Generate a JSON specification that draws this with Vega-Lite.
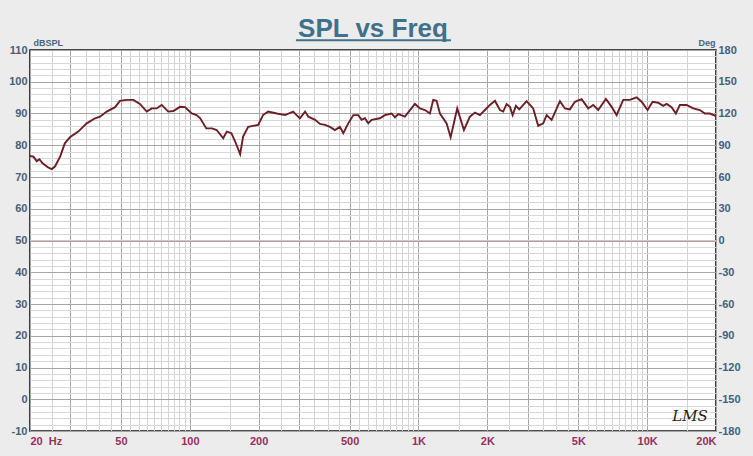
{
  "$schema": "https://vega.github.io/schema/vega-lite/v6.json",
  "autosize": {"type": "none"},
  "padding": {"left": 30, "top": 50, "right": 37, "bottom": 25},
  "width": 686,
  "height": 381,
  "background": "#ececec",
  "config": {
    "view": {"fill": "#ffffff", "stroke": "#111111", "strokeWidth": 1.6},
    "axis": {"domain": false, "ticks": false, "labelOverlap": false, "labelBound": false,
             "labelFont": "Liberation Sans Narrow, Liberation Sans, Arial", "labelFontWeight": "bold", "labelFontSize": 11,
             "titleFont": "Liberation Sans", "titleFontWeight": "bold", "titleFontSize": 9, "titleColor": "#4a6580"}
  },
  "title": {"text": "SPL vs Freq", "font": "Liberation Sans", "fontSize": 26, "fontWeight": "bold", "color": "#41708a",
            "anchor": "middle", "frame": "group", "baseline": "alphabetic", "offset": 14, "dy": 39},
  "datasets": {
    "spl": [
      {"freq": 20, "spl": 76.6}, {"freq": 20.7, "spl": 76.4}, {"freq": 21.4, "spl": 75}, {"freq": 22, "spl": 75.6},
      {"freq": 22.7, "spl": 74.3}, {"freq": 24, "spl": 73}, {"freq": 24.9, "spl": 72.5}, {"freq": 25.7, "spl": 73.3},
      {"freq": 27.1, "spl": 76.4}, {"freq": 28.4, "spl": 80.6}, {"freq": 29.9, "spl": 82.5}, {"freq": 32.5, "spl": 84.3},
      {"freq": 35.4, "spl": 86.9}, {"freq": 38.5, "spl": 88.5}, {"freq": 40.5, "spl": 89}, {"freq": 43.3, "spl": 90.6},
      {"freq": 47.1, "spl": 92}, {"freq": 49.5, "spl": 94}, {"freq": 52.9, "spl": 94.3}, {"freq": 56.6, "spl": 94.3},
      {"freq": 60.5, "spl": 93}, {"freq": 64.8, "spl": 90.6}, {"freq": 68.1, "spl": 91.6}, {"freq": 71.6, "spl": 91.6},
      {"freq": 75.3, "spl": 92.7}, {"freq": 80.5, "spl": 90.6}, {"freq": 84.7, "spl": 90.8}, {"freq": 90.6, "spl": 92.1},
      {"freq": 95.2, "spl": 92}, {"freq": 102, "spl": 90}, {"freq": 107, "spl": 89.5}, {"freq": 111, "spl": 88.5},
      {"freq": 118, "spl": 85.3}, {"freq": 125, "spl": 85.3}, {"freq": 131, "spl": 84.8}, {"freq": 140, "spl": 82.2},
      {"freq": 145, "spl": 84.3}, {"freq": 152, "spl": 83.8}, {"freq": 158, "spl": 81.1}, {"freq": 166, "spl": 77.2},
      {"freq": 171, "spl": 82.7}, {"freq": 180, "spl": 85.8}, {"freq": 189, "spl": 86.1}, {"freq": 199, "spl": 86.4},
      {"freq": 209, "spl": 89.5}, {"freq": 220, "spl": 90.6}, {"freq": 240, "spl": 90}, {"freq": 261, "spl": 89.5},
      {"freq": 283, "spl": 90.6}, {"freq": 293, "spl": 89.5}, {"freq": 303, "spl": 88.5}, {"freq": 319, "spl": 90.6},
      {"freq": 330, "spl": 89}, {"freq": 353, "spl": 88}, {"freq": 371, "spl": 86.7}, {"freq": 390, "spl": 86.4},
      {"freq": 410, "spl": 85.8}, {"freq": 431, "spl": 84.8}, {"freq": 453, "spl": 85.8}, {"freq": 469, "spl": 83.8},
      {"freq": 493, "spl": 86.9}, {"freq": 519, "spl": 89.5}, {"freq": 545, "spl": 89.5}, {"freq": 564, "spl": 88},
      {"freq": 583, "spl": 88.5}, {"freq": 603, "spl": 86.9}, {"freq": 624, "spl": 88}, {"freq": 678, "spl": 88.5},
      {"freq": 713, "spl": 89.5}, {"freq": 763, "spl": 90}, {"freq": 789, "spl": 88.8}, {"freq": 816, "spl": 89.8},
      {"freq": 872, "spl": 89}, {"freq": 965, "spl": 93}, {"freq": 1015, "spl": 91.6}, {"freq": 1067, "spl": 91.1},
      {"freq": 1122, "spl": 90}, {"freq": 1160, "spl": 94.3}, {"freq": 1200, "spl": 94}, {"freq": 1241, "spl": 90},
      {"freq": 1327, "spl": 86.9}, {"freq": 1382, "spl": 82.5}, {"freq": 1477, "spl": 91.6}, {"freq": 1580, "spl": 84.8},
      {"freq": 1678, "spl": 89}, {"freq": 1765, "spl": 90.3}, {"freq": 1856, "spl": 89.5}, {"freq": 1952, "spl": 91.1},
      {"freq": 2053, "spl": 92.7}, {"freq": 2159, "spl": 94}, {"freq": 2270, "spl": 91.1}, {"freq": 2347, "spl": 90.6},
      {"freq": 2429, "spl": 93}, {"freq": 2511, "spl": 92.1}, {"freq": 2580, "spl": 89.5}, {"freq": 2667, "spl": 92.4},
      {"freq": 2758, "spl": 91.3}, {"freq": 2970, "spl": 93.9}, {"freq": 3174, "spl": 91.6}, {"freq": 3339, "spl": 86.1},
      {"freq": 3511, "spl": 86.9}, {"freq": 3634, "spl": 89.5}, {"freq": 3821, "spl": 88}, {"freq": 4155, "spl": 93.9},
      {"freq": 4369, "spl": 91.6}, {"freq": 4594, "spl": 91.3}, {"freq": 4830, "spl": 93.7}, {"freq": 5169, "spl": 94.5},
      {"freq": 5523, "spl": 91.6}, {"freq": 5809, "spl": 92.7}, {"freq": 6108, "spl": 91.1}, {"freq": 6602, "spl": 94.6},
      {"freq": 6991, "spl": 92.1}, {"freq": 7352, "spl": 89.5}, {"freq": 7858, "spl": 94.3}, {"freq": 8406, "spl": 94.3},
      {"freq": 8991, "spl": 95.1}, {"freq": 9455, "spl": 93.7}, {"freq": 10042, "spl": 91.1}, {"freq": 10562, "spl": 93.7},
      {"freq": 11174, "spl": 93.4}, {"freq": 11751, "spl": 92.4}, {"freq": 12162, "spl": 93}, {"freq": 12788, "spl": 92},
      {"freq": 13353, "spl": 90}, {"freq": 13902, "spl": 92.7}, {"freq": 14872, "spl": 92.7}, {"freq": 15900, "spl": 91.6},
      {"freq": 17007, "spl": 91.1}, {"freq": 17886, "spl": 90}, {"freq": 18809, "spl": 90}, {"freq": 20000, "spl": 89.2}
    ],
    "phase": [{"deg": 0}]
  },
  "layer": [
    {
      "data": {"name": "spl"},
      "mark": {"type": "line", "color": "#6b1f24", "strokeWidth": 1.9},
      "encoding": {
        "x": {
          "field": "freq", "type": "quantitative",
          "scale": {"type": "log", "domain": [20, 20000], "nice": false},
          "axis": {
            "title": null, "grid": true, "gridWidth": 1,
            "values": [20, 25, 30, 35, 40, 45, 50, 55, 60, 65, 70, 75, 80, 85, 90, 95, 100, 150, 200, 250, 300, 350, 400, 450, 500, 550, 600, 650, 700, 750, 800, 850, 900, 950, 1000, 1500, 2000, 2500, 3000, 3500, 4000, 4500, 5000, 5500, 6000, 6500, 7000, 7500, 8000, 8500, 9000, 9500, 10000, 15000, 20000],
            "gridColor": {"condition": {"test": "indexof([20, 30, 50, 100, 200, 300, 500, 1000, 2000, 3000, 5000, 10000, 20000], datum.value) >= 0", "value": "#a6a6a6"}, "value": "#d4d4d4"},
            "labelExpr": "datum.value == 20 ? '20\u00a0\u00a0Hz' : indexof([50, 100, 200, 500], datum.value) >= 0 ? '' + datum.value : indexof([1000, 2000, 5000, 10000, 20000], datum.value) >= 0 ? (datum.value / 1000) + 'K' : ''",
            "labelColor": "#97305a", "labelPadding": 4, "labelFlush": true
          }
        },
        "y": {
          "field": "spl", "type": "quantitative",
          "scale": {"domain": [-10, 110], "nice": false, "zero": false},
          "axis": {
            "title": "dBSPL", "titleAngle": 0, "titleAlign": "left", "titleBaseline": "bottom", "titleX": 3, "titleY": -3,
            "grid": true, "gridWidth": 1,
            "values": [-10, -8, -6, -4, -2, 0, 2, 4, 6, 8, 10, 12, 14, 16, 18, 20, 22, 24, 26, 28, 30, 32, 34, 36, 38, 40, 42, 44, 46, 48, 50, 52, 54, 56, 58, 60, 62, 64, 66, 68, 70, 72, 74, 76, 78, 80, 82, 84, 86, 88, 90, 92, 94, 96, 98, 100, 102, 104, 106, 108, 110],
            "gridColor": {"condition": {"test": "datum.value % 10 == 0", "value": "#a6a6a6"}, "value": "#d8d8d8"},
            "labelExpr": "datum.value % 10 == 0 ? '' + datum.value : ''",
            "labelColor": "#3f5f7f", "labelPadding": 3
          }
        }
      }
    },
    {
      "data": {"name": "phase"},
      "mark": {"type": "rule", "color": "#dcc4bc", "strokeWidth": 1.2},
      "encoding": {
        "y": {
          "field": "deg", "type": "quantitative",
          "scale": {"domain": [-180, 180], "nice": false, "zero": false},
          "axis": {
            "orient": "right", "title": "Deg", "titleAngle": 0, "titleAlign": "right", "titleBaseline": "bottom", "titleX": -1, "titleY": -3,
            "grid": false, "values": [-180, -150, -120, -90, -60, -30, 0, 30, 60, 90, 120, 150, 180],
            "labelExpr": "'' + datum.value", "labelColor": "#3f5f7f", "labelPadding": 2
          }
        }
      }
    },
    {
      "data": {"values": [{"label": "LMS"}]},
      "mark": {"type": "text", "font": "DejaVu Serif", "fontStyle": "italic", "fontSize": 15, "color": "#222222", "baseline": "middle"},
      "encoding": {
        "x": {"datum": 15400, "type": "quantitative", "scale": {"type": "log", "domain": [20, 20000], "nice": false}},
        "y": {"datum": -5.3, "type": "quantitative", "scale": {"domain": [-10, 110], "nice": false, "zero": false}, "axis": null},
        "text": {"field": "label"}
      }
    },
    {
      "data": {"values": [{"from": 291, "to": 1387, "level": 113.1}]},
      "mark": {"type": "rule", "color": "#41708a", "strokeWidth": 2, "clip": false},
      "encoding": {
        "x": {"field": "from", "type": "quantitative", "scale": {"type": "log", "domain": [20, 20000], "nice": false}},
        "x2": {"field": "to"},
        "y": {"field": "level", "type": "quantitative", "scale": {"domain": [-10, 110], "nice": false, "zero": false}, "axis": null}
      }
    }
  ],
  "resolve": {"scale": {"y": "independent"}, "axis": {"y": "independent"}}
}
